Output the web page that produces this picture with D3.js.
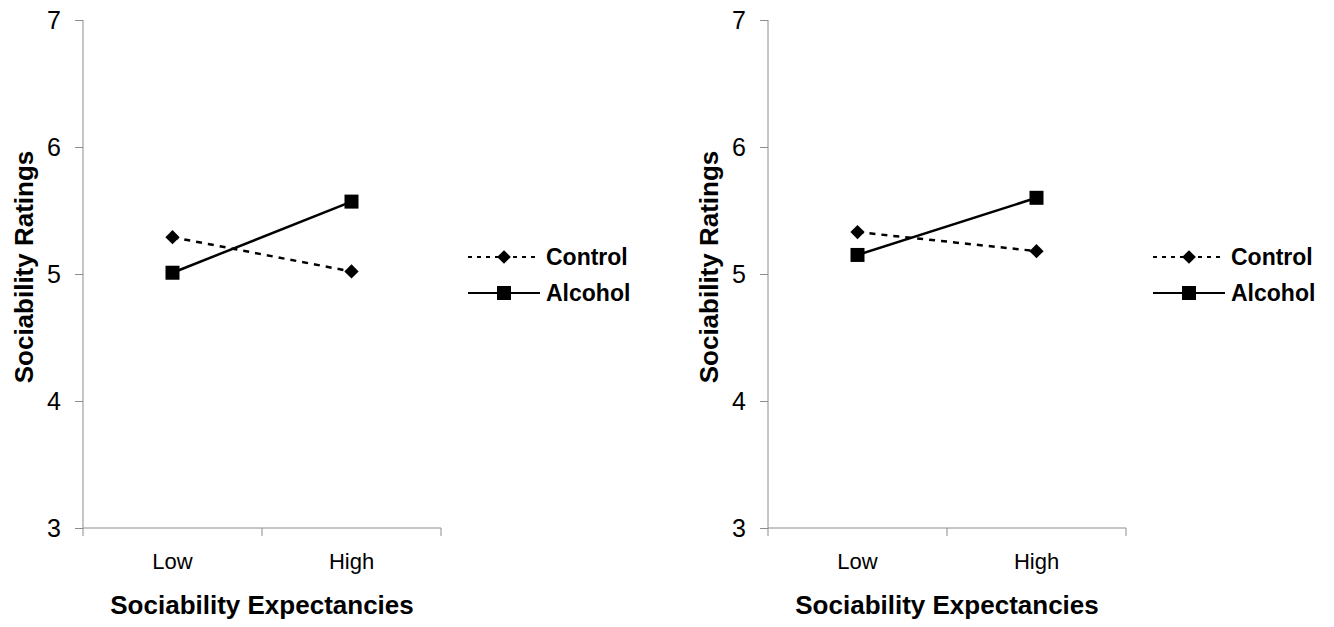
<html lang="en">
  <head>
    <meta charset="utf-8" />
    <title>Sociability Ratings</title>
    <script src="https://d3js.org/d3.v7.min.js"></script>
    <style>
      body { margin: 0; background: #fff; }
      text { font-family: "Liberation Sans", Arial, sans-serif; }
    </style>
  </head>
  <body>
    <script>
      /*************************** Data ***************************/

      var categories = ["Low", "High"];
      var yTicks = [3, 4, 5, 6, 7];
      var seriesNames = ["Control", "Alcohol"];

      // left panel
      var controlLeft = [5.29, 5.02];
      var alcoholLeft = [5.01, 5.57];
      // right panel
      var controlRight = [5.33, 5.18];
      var alcoholRight = [5.15, 5.60];

      var xTitle = "Sociability Expectancies";
      var yTitle = "Sociability Ratings";

      /*************************** Canvas ***************************/

      var width = 1334, height = 627;
      var svg = d3.select("body").append("svg")
        .attr("width", width).attr("height", height);

      var axisColor = "#8c8c8c";

      function drawPanel(left, control, alcohol) {
        var g = svg.append("g");
        var x0 = left, x1 = left + 358;
        var y = d3.scaleLinear().domain([3, 7]).range([528, 20]);
        var x = d3.scaleBand().domain(categories).range([x0, x1]);

        // y axis
        var yAxis = g.append("g").attr("transform", "translate(" + x0 + ",0)")
          .call(d3.axisLeft(y).tickValues(yTicks).tickSize(8).tickPadding(14).tickFormat(d3.format("d")));
        yAxis.select(".domain").attr("stroke", axisColor).attr("d", "M0," + y(7) + "V" + y(3));
        yAxis.selectAll(".tick line").attr("stroke", axisColor);
        yAxis.selectAll(".tick text").attr("font-size", 25).attr("fill", "#000")
          .attr("font-family", "Liberation Sans, Arial, sans-serif");

        // x axis
        var xAxis = g.append("g").attr("transform", "translate(0," + y(3) + ")");
        xAxis.append("line").attr("x1", x0).attr("x2", x1)
          .attr("stroke", axisColor);
        var bounds = categories.map(function (c) { return x(c); }).concat([x1]);
        xAxis.selectAll(".xt").data(bounds).enter().append("line")
          .attr("x1", function (d) { return d; }).attr("x2", function (d) { return d; })
          .attr("y1", 0).attr("y2", 8).attr("stroke", axisColor);
        xAxis.selectAll(".xl").data(categories).enter().append("text")
          .attr("x", function (d) { return x(d) + x.bandwidth() / 2; })
          .attr("y", 41).attr("text-anchor", "middle").attr("font-size", 22)
          .text(function (d) { return d; });

        // titles
        g.append("text").attr("x", (x0 + x1) / 2).attr("y", 614)
          .attr("text-anchor", "middle").attr("font-size", 26).attr("font-weight", "bold")
          .text(xTitle);
        g.append("text").attr("transform", "translate(" + (x0 - 50) + ",267) rotate(-90)")
          .attr("text-anchor", "middle").attr("font-size", 26).attr("font-weight", "bold")
          .text(yTitle);

        var cx = function (d, i) { return x(categories[i]) + x.bandwidth() / 2; };
        var line = d3.line().x(cx).y(function (d) { return y(d); });

        // control: dashed + diamonds
        g.append("path").datum(control).attr("d", line).attr("fill", "none")
          .attr("stroke", "#000").attr("stroke-width", 2.5).attr("stroke-dasharray", "6,6");
        g.selectAll(".dia").data(control).enter().append("path")
          .attr("d", d3.symbol().type(d3.symbolDiamond2).size(130))
          .attr("transform", function (d, i) { return "translate(" + cx(d, i) + "," + y(d) + ")"; });

        // alcohol: solid + squares
        g.append("path").datum(alcohol).attr("d", line).attr("fill", "none")
          .attr("stroke", "#000").attr("stroke-width", 2.5);
        g.selectAll(".sq").data(alcohol).enter().append("rect")
          .attr("x", function (d, i) { return cx(d, i) - 7; })
          .attr("y", function (d) { return y(d) - 7; })
          .attr("width", 14).attr("height", 14);

        // legend
        var lx = x1 + 27;
        var leg = g.append("g").attr("transform", "translate(" + lx + ",0)");
        seriesNames.forEach(function (name, i) {
          var ly = 257 + i * 36;
          leg.append("line").attr("x1", 0).attr("x2", 72).attr("y1", ly).attr("y2", ly)
            .attr("stroke", "#000").attr("stroke-width", 2)
            .attr("stroke-dasharray", i === 0 ? "4,5" : null);
          if (i === 0) {
            leg.append("path").attr("d", d3.symbol().type(d3.symbolDiamond2).size(120))
              .attr("transform", "translate(36," + ly + ")");
          } else {
            leg.append("rect").attr("x", 29).attr("y", ly - 7).attr("width", 14).attr("height", 14);
          }
          leg.append("text").attr("x", 78).attr("y", ly + 8).attr("font-size", 23)
            .attr("font-weight", "bold").text(name);
        });
      }

      drawPanel(83, controlLeft, alcoholLeft);
      drawPanel(768, controlRight, alcoholRight);
    </script>
  </body>
</html>
